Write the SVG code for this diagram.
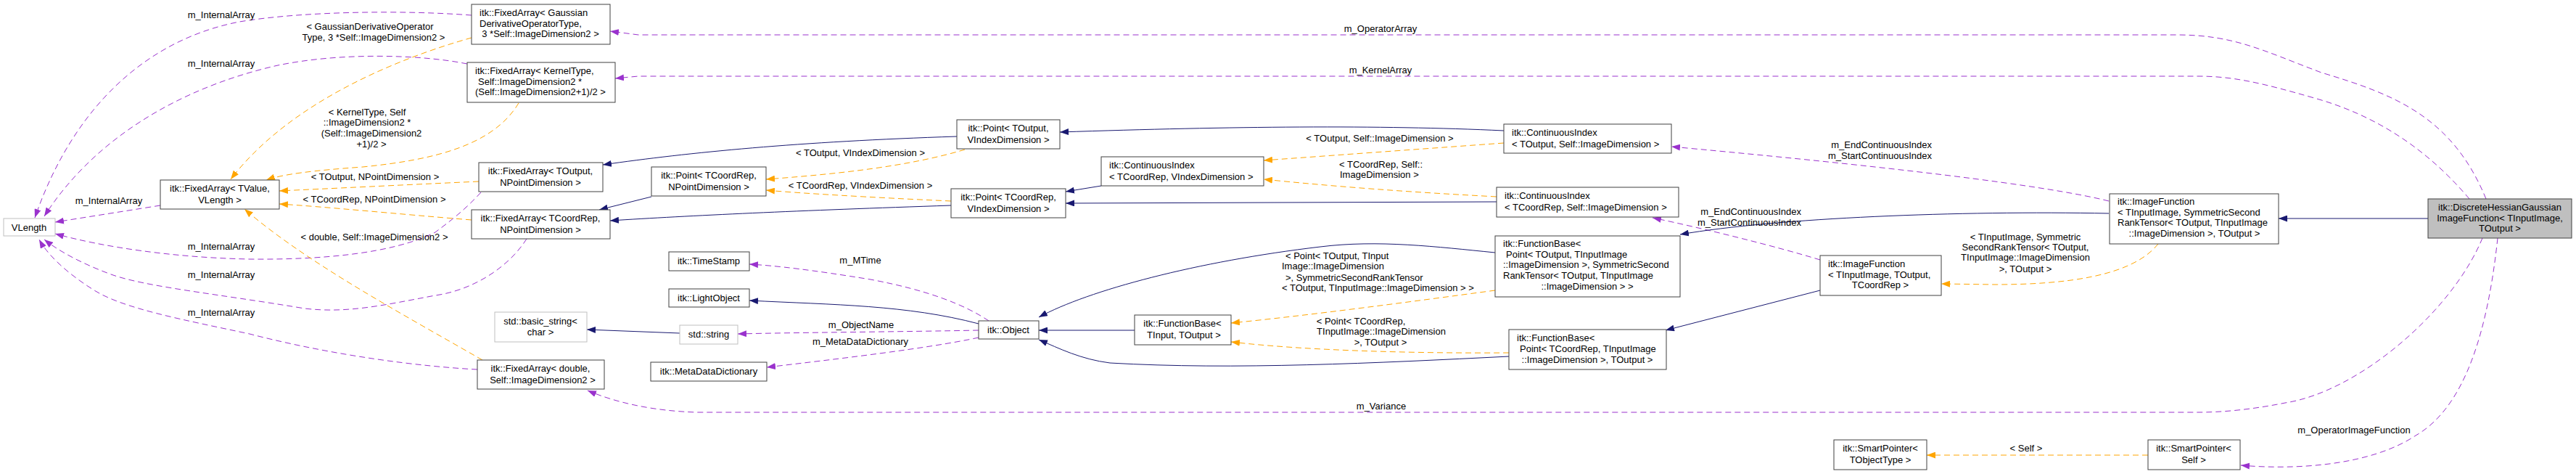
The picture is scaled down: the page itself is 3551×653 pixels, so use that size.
<svg xmlns="http://www.w3.org/2000/svg" width="3551" height="653" viewBox="0 0 3551 653">
<style>
text{font-family:"Liberation Sans",Arial,sans-serif;font-size:13px;fill:#000}
.c{text-anchor:middle}
.r{text-anchor:end}
.n rect{fill:#fff;stroke:#404040;stroke-width:1}
.g rect{fill:#fff;stroke:#bfbfbf;stroke-width:1}
.s rect{fill:#bfbfbf;stroke:#404040;stroke-width:1}
.p{fill:none;stroke:#9a32cd;stroke-dasharray:8,5}
.o{fill:none;stroke:#ffa500;stroke-dasharray:8,5}
.b{fill:none;stroke:#191970}
.p{marker-end:url(#mp)}.o{marker-end:url(#mo)}.b{marker-end:url(#mb)}
</style>
<defs>
<marker id="mp" markerUnits="userSpaceOnUse" markerWidth="12" markerHeight="9" viewBox="0 0 12 9" refX="12" refY="4.5" orient="auto"><path d="M0,0L12,4.5L0,9z" fill="#9a32cd"/></marker>
<marker id="mo" markerUnits="userSpaceOnUse" markerWidth="12" markerHeight="9" viewBox="0 0 12 9" refX="12" refY="4.5" orient="auto"><path d="M0,0L12,4.5L0,9z" fill="#ffa500"/></marker>
<marker id="mb" markerUnits="userSpaceOnUse" markerWidth="12" markerHeight="9" viewBox="0 0 12 9" refX="12" refY="4.5" orient="auto"><path d="M0,0L12,4.5L0,9z" fill="#191970"/></marker>
</defs>
<rect width="3551" height="653" fill="#fff"/>
<g id="connectors">
<path class="p" d="M650,21 C560,14 420,15 330,30 C200,55 100,150 48,300"/>
<path class="p" d="M644,88 C580,75 470,72 383,90 C250,120 130,190 61,298"/>
<path class="p" d="M221,283 L76,306"/>
<path class="p" d="M663,265 C640,290 620,305 600,320 C540,350 440,358 344,357 C240,355 140,340 76,322"/>
<path class="p" d="M726,329 C700,370 650,400 600,407 C530,420 480,432 420,425 C300,405 200,395 153,378 C110,362 80,345 61,330"/>
<path class="p" d="M658,509 C580,505 460,490 344,460 C250,440 170,425 130,400 C90,375 65,350 54,330"/>
<path class="p" d="M3427,274 C3380,160 3300,130 3200,100 C3120,70 3080,48 3000,48 L880,48 L841,43"/>
<path class="p" d="M3404,274 C3350,210 3280,160 3190,135 C3120,115 3080,105 3030,105 L880,105 L848,108"/>
<path class="p" d="M3422,328 C3380,430 3250,540 3150,555 C3100,565 3060,568 3030,568 L960,568 C900,566 850,555 810,538"/>
<path class="p" d="M3443,328 C3430,450 3400,560 3330,600 C3270,640 3170,648 3089,641"/>
<path class="p" d="M2907,277 C2800,250 2500,220 2304,202"/>
<path class="p" d="M2509,358 C2450,340 2350,315 2278,300"/>
<path class="p" d="M1363,442 C1330,420 1280,400 1200,385 C1120,372 1070,366 1033,364"/>
<path class="p" d="M1349,455 C1250,457 1100,458 1017,460"/>
<path class="p" d="M1349,465 C1280,480 1150,495 1057,506"/>
<path class="b" d="M1319,188 C1100,195 950,210 831,227"/>
<path class="b" d="M898,271 L826,289"/>
<path class="b" d="M1311,283 C1100,290 950,297 841,304"/>
<path class="b" d="M1518,256 L1469,264"/>
<path class="b" d="M2073,180 C1900,172 1700,174 1461,182"/>
<path class="b" d="M2063,278 L1469,280"/>
<path class="b" d="M937,459 L809,454"/>
<path class="b" d="M1349,446 C1250,420 1150,420 1033,414"/>
<path class="b" d="M1564,455 L1432,455"/>
<path class="b" d="M2061,348 C1980,340 1900,330 1820,340 C1650,360 1500,400 1432,437"/>
<path class="b" d="M2080,491 C1900,500 1700,510 1530,500 C1490,495 1460,480 1432,468"/>
<path class="b" d="M2907,294 C2700,290 2450,300 2316,323"/>
<path class="b" d="M2509,400 L2296,455"/>
<path class="b" d="M3347,301 L3141,301"/>
<path class="o" d="M650,52 C550,80 400,140 318,247"/>
<path class="o" d="M715,142 C680,200 600,220 500,230 C430,235 390,240 367,248"/>
<path class="o" d="M660,250 C550,255 450,260 385,263"/>
<path class="o" d="M650,303 C550,295 450,285 385,281"/>
<path class="o" d="M665,496 C550,430 420,360 337,288"/>
<path class="o" d="M1330,206 C1250,230 1150,240 1056,247"/>
<path class="o" d="M1311,277 C1200,272 1100,266 1056,262"/>
<path class="o" d="M2073,197 L1742,221"/>
<path class="o" d="M2063,271 C1950,265 1850,258 1742,247"/>
<path class="o" d="M2061,400 C1950,415 1800,435 1697,445"/>
<path class="o" d="M2080,486 C1950,487 1800,483 1697,471"/>
<path class="o" d="M2975,336 C2940,380 2850,392 2750,392 L2676,391"/>
<path class="o" d="M2961,627 L2656,627"/>
<g id="labels">
<text class="c" x="305" y="25">m_InternalArray</text>
<text class="c" x="305" y="92">m_InternalArray</text>
<text class="c" x="150" y="281">m_InternalArray</text>
<text class="c" x="305" y="344">m_InternalArray</text>
<text class="c" x="305" y="383">m_InternalArray</text>
<text class="c" x="305" y="435">m_InternalArray</text>
<text class="c" x="510" y="41">&lt; GaussianDerivativeOperator</text>
<text class="c" x="515" y="56">Type, 3 *Self::ImageDimension2 &gt;</text>
<text class="c" x="506" y="159">&lt; KernelType, Self</text>
<text class="c" x="506" y="173">::ImageDimension2 *</text>
<text class="c" x="512" y="188">(Self::ImageDimension2</text>
<text class="c" x="512" y="203">+1)/2 &gt;</text>
<text class="c" x="517" y="248">&lt; TOutput, NPointDimension &gt;</text>
<text class="c" x="516" y="279">&lt; TCoordRep, NPointDimension &gt;</text>
<text class="c" x="516" y="331">&lt; double, Self::ImageDimension2 &gt;</text>
<text class="c" x="1186" y="215">&lt; TOutput, VIndexDimension &gt;</text>
<text class="c" x="1186" y="260">&lt; TCoordRep, VIndexDimension &gt;</text>
<text class="c" x="1902" y="195">&lt; TOutput, Self::ImageDimension &gt;</text>
<text x="1846" y="231">&lt; TCoordRep, Self::</text>
<text x="1847" y="245">ImageDimension &gt;</text>
<text class="c" x="1903" y="44">m_OperatorArray</text>
<text class="c" x="1903" y="101">m_KernelArray</text>
<text class="c" x="1904" y="564">m_Variance</text>
<text class="c" x="3245" y="597">m_OperatorImageFunction</text>
<text class="c" x="2793" y="622">&lt; Self &gt;</text>
<text class="r" x="2663" y="204">m_EndContinuousIndex</text>
<text class="r" x="2663" y="219">m_StartContinuousIndex</text>
<text class="r" x="2483" y="296">m_EndContinuousIndex</text>
<text class="r" x="2483" y="311">m_StartContinuousIndex</text>
<text class="c" x="2792" y="331">&lt; TInputImage, Symmetric</text>
<text class="c" x="2792" y="345">SecondRankTensor&lt; TOutput,</text>
<text class="c" x="2792" y="359">TInputImage::ImageDimension</text>
<text class="c" x="2792" y="375">&gt;, TOutput &gt;</text>
<text class="c" x="1186" y="363">m_MTime</text>
<text class="c" x="1187" y="452">m_ObjectName</text>
<text class="c" x="1186" y="475">m_MetaDataDictionary</text>
<text x="1772" y="357">&lt; Point&lt; TOutput, TInput</text>
<text x="1767" y="371">Image::ImageDimension</text>
<text x="1772" y="387">&gt;, SymmetricSecondRankTensor</text>
<text x="1767" y="401">&lt; TOutput, TInputImage::ImageDimension &gt; &gt;</text>
<text class="c" x="1876" y="447">&lt; Point&lt; TCoordRep,</text>
<text class="c" x="1904" y="461">TInputImage::ImageDimension</text>
<text class="c" x="1903" y="476">&gt;, TOutput &gt;</text>
</g>
</g>
<g id="n_vlength" class="g"><rect x="5" y="301" width="71" height="24"/><text class="c" x="40" y="318">VLength</text></g>
<g id="n_fa_tvalue" class="n"><rect x="221" y="248" width="164" height="40"/><text class="c" x="303" y="264">itk::FixedArray&lt; TValue,</text><text class="c" x="303" y="280">VLength &gt;</text></g>
<g id="n_fa_gauss" class="n"><rect x="650" y="6" width="191" height="55"/><text x="661" y="22">itk::FixedArray&lt; Gaussian</text><text x="661" y="37">DerivativeOperatorType,</text><text class="c" x="745" y="51">3 *Self::ImageDimension2 &gt;</text></g>
<g id="n_fa_kernel" class="n"><rect x="644" y="86" width="204" height="55"/><text x="655" y="102">itk::FixedArray&lt; KernelType,</text><text x="659" y="117">Self::ImageDimension2 *</text><text x="655" y="131">(Self::ImageDimension2+1)/2 &gt;</text></g>
<g id="n_fa_toutput" class="n"><rect x="660" y="224" width="171" height="40"/><text class="c" x="745" y="240">itk::FixedArray&lt; TOutput,</text><text class="c" x="745" y="256">NPointDimension &gt;</text></g>
<g id="n_point_np" class="n"><rect x="898" y="230" width="158" height="40"/><text class="c" x="977" y="246">itk::Point&lt; TCoordRep,</text><text class="c" x="977" y="262">NPointDimension &gt;</text></g>
<g id="n_fa_tcoord" class="n"><rect x="650" y="289" width="191" height="40"/><text class="c" x="745" y="305">itk::FixedArray&lt; TCoordRep,</text><text class="c" x="745" y="321">NPointDimension &gt;</text></g>
<g id="n_timestamp" class="n"><rect x="922" y="347" width="111" height="26"/><text class="c" x="977" y="364">itk::TimeStamp</text></g>
<g id="n_lightobject" class="n"><rect x="922" y="398" width="111" height="25"/><text class="c" x="977" y="415">itk::LightObject</text></g>
<g id="n_basic_string" class="g"><rect x="682" y="430" width="127" height="41"/><text class="c" x="745" y="447">std::basic_string&lt;</text><text class="c" x="745" y="462">char &gt;</text></g>
<g id="n_string" class="g"><rect x="937" y="448" width="80" height="26"/><text class="c" x="977" y="465">std::string</text></g>
<g id="n_fa_double" class="n"><rect x="658" y="496" width="175" height="40"/><text class="c" x="745" y="512">itk::FixedArray&lt; double,</text><text class="c" x="748" y="528">Self::ImageDimension2 &gt;</text></g>
<g id="n_metadata" class="n"><rect x="897" y="499" width="160" height="26"/><text class="c" x="977" y="516">itk::MetaDataDictionary</text></g>
<g id="n_point_tout_vi" class="n"><rect x="1319" y="165" width="142" height="40"/><text class="c" x="1390" y="181">itk::Point&lt; TOutput,</text><text class="c" x="1390" y="197">VIndexDimension &gt;</text></g>
<g id="n_ci_vi" class="n"><rect x="1518" y="216" width="224" height="40"/><text x="1529" y="232">itk::ContinuousIndex</text><text x="1529" y="248">&lt; TCoordRep, VIndexDimension &gt;</text></g>
<g id="n_point_tc_vi" class="n"><rect x="1311" y="260" width="158" height="40"/><text class="c" x="1390" y="276">itk::Point&lt; TCoordRep,</text><text class="c" x="1390" y="292">VIndexDimension &gt;</text></g>
<g id="n_object" class="n"><rect x="1349" y="442" width="83" height="25"/><text class="c" x="1390" y="459">itk::Object</text></g>
<g id="n_fb" class="n"><rect x="1564" y="434" width="133" height="41"/><text class="c" x="1630" y="450">itk::FunctionBase&lt;</text><text class="c" x="1632" y="466">TInput, TOutput &gt;</text></g>
<g id="n_ci_tout_self" class="n"><rect x="2073" y="171" width="231" height="40"/><text x="2084" y="187">itk::ContinuousIndex</text><text x="2084" y="203">&lt; TOutput, Self::ImageDimension &gt;</text></g>
<g id="n_ci_tc_self" class="n"><rect x="2063" y="258" width="251" height="41"/><text x="2074" y="274">itk::ContinuousIndex</text><text x="2074" y="290">&lt; TCoordRep, Self::ImageDimension &gt;</text></g>
<g id="n_fb_point_tout" class="n"><rect x="2061" y="325" width="255" height="84"/><text x="2072" y="340">itk::FunctionBase&lt;</text><text x="2076" y="355">Point&lt; TOutput, TInputImage</text><text x="2072" y="369">::ImageDimension &gt;, SymmetricSecond</text><text x="2072" y="384">RankTensor&lt; TOutput, TInputImage</text><text class="c" x="2188" y="399">::ImageDimension &gt; &gt;</text></g>
<g id="n_fb_point_tc" class="n"><rect x="2080" y="454" width="217" height="55"/><text x="2091" y="470">itk::FunctionBase&lt;</text><text x="2095" y="485">Point&lt; TCoordRep, TInputImage</text><text class="c" x="2188" y="500">::ImageDimension &gt;, TOutput &gt;</text></g>
<g id="n_imgfunc_tc" class="n"><rect x="2509" y="352" width="167" height="55"/><text x="2520" y="368">itk::ImageFunction</text><text x="2520" y="383">&lt; TInputImage, TOutput,</text><text class="c" x="2592" y="397">TCoordRep &gt;</text></g>
<g id="n_sp_tobj" class="n"><rect x="2528" y="606" width="128" height="41"/><text class="c" x="2592" y="622">itk::SmartPointer&lt;</text><text class="c" x="2592" y="638">TObjectType &gt;</text></g>
<g id="n_imgfunc_sst" class="n"><rect x="2908" y="267" width="233" height="69"/><text x="2919" y="282">itk::ImageFunction</text><text x="2919" y="297">&lt; TInputImage, SymmetricSecond</text><text x="2919" y="311">RankTensor&lt; TOutput, TInputImage</text><text class="c" x="3025" y="326">::ImageDimension &gt;, TOutput &gt;</text></g>
<g id="n_discrete" class="s"><rect x="3347" y="274" width="198" height="54"/><text class="c" x="3446" y="290">itk::DiscreteHessianGaussian</text><text class="c" x="3446" y="305">ImageFunction&lt; TInputImage,</text><text class="c" x="3446" y="319">TOutput &gt;</text></g>
<g id="n_sp_self" class="n"><rect x="2961" y="606" width="127" height="41"/><text class="c" x="3024" y="622">itk::SmartPointer&lt;</text><text class="c" x="3024" y="638">Self &gt;</text></g>
</svg>
